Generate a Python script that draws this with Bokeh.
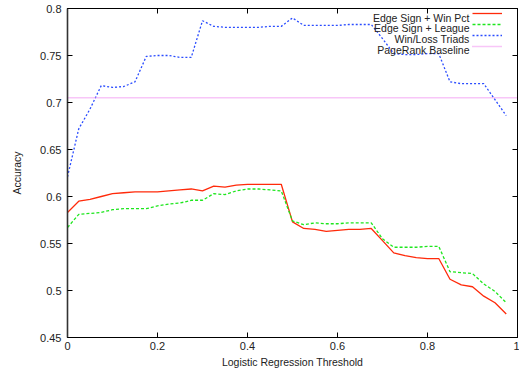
from bokeh.plotting import figure
from bokeh.models import (LinearAxis, FixedTicker, Legend, LegendItem, Label, Range1d,
                          CustomJSTickFormatter)
from bokeh.embed import file_html
from bokeh.resources import INLINE

# ---------------- data ----------------
thresholds = [0.0, 0.025, 0.05, 0.075, 0.1, 0.125, 0.15, 0.175, 0.2, 0.225,
              0.25, 0.275, 0.3, 0.325, 0.35, 0.375, 0.4, 0.425, 0.45, 0.475,
              0.5, 0.525, 0.55, 0.575, 0.6, 0.625, 0.65, 0.675, 0.7, 0.725,
              0.75, 0.775, 0.8, 0.825, 0.85, 0.875, 0.9, 0.925, 0.95, 0.975]

edge_sign_win_pct = [0.583, 0.595, 0.597, 0.600, 0.603, 0.604, 0.605, 0.605, 0.605, 0.606,
                     0.607, 0.608, 0.606, 0.611, 0.610, 0.612, 0.613, 0.613, 0.613, 0.613,
                     0.573, 0.566, 0.565, 0.563, 0.564, 0.565, 0.565, 0.566, 0.553, 0.540,
                     0.537, 0.535, 0.534, 0.534, 0.512, 0.506, 0.504, 0.494, 0.487, 0.475]

edge_sign_league = [0.567, 0.581, 0.582, 0.583, 0.586, 0.587, 0.587, 0.587, 0.590, 0.592,
                    0.593, 0.596, 0.596, 0.603, 0.602, 0.606, 0.608, 0.608, 0.607, 0.606,
                    0.574, 0.570, 0.572, 0.571, 0.571, 0.572, 0.572, 0.572, 0.555, 0.546,
                    0.546, 0.546, 0.547, 0.547, 0.520, 0.519, 0.518, 0.507, 0.499, 0.487]

win_loss_triads = [0.621, 0.672, 0.693, 0.718, 0.716, 0.717, 0.722, 0.749, 0.750, 0.750,
                   0.748, 0.748, 0.787, 0.781, 0.780, 0.780, 0.780, 0.780, 0.781, 0.781,
                   0.790, 0.782, 0.782, 0.782, 0.782, 0.783, 0.783, 0.783, 0.768, 0.752,
                   0.751, 0.751, 0.752, 0.752, 0.722, 0.720, 0.720, 0.720, 0.703, 0.686]

pagerank_baseline = 0.705

series_names = ["Edge Sign + Win Pct", "Edge Sign + League",
                "Win/Loss Triads", "PageRank Baseline"]

x_ticks = [0, 0.2, 0.4, 0.6, 0.8, 1]
x_tick_labels = ["0", "0.2", "0.4", "0.6", "0.8", "1"]
y_ticks = [0.45, 0.5, 0.55, 0.6, 0.65, 0.7, 0.75, 0.8]
y_tick_labels = ["0.45", "0.5", "0.55", "0.6", "0.65", "0.7", "0.75", "0.8"]

FONT = "Liberation Sans"

# ---------------- figure ----------------
W, H = 519, 376
BL, BR, BT, BB = 67, 2, 8, 39
p = figure(width=W, height=H, output_backend="svg", toolbar_location=None,
           x_range=Range1d(0, 1), y_range=Range1d(0.45, 0.8),
           min_border_left=BL, min_border_right=BR, min_border_top=BT,
           min_border_bottom=BB)
p.grid.visible = False
p.outline_line_color = "black"
p.outline_line_width = 1
p.background_fill_color = "white"
p.border_fill_color = "white"


def style_axis(ax, ticks, labels, show_labels=True):
    ax.ticker = FixedTicker(ticks=ticks)
    ax.major_tick_in = 5
    ax.major_tick_out = 0
    ax.minor_tick_line_color = None
    ax.major_tick_line_color = "black"
    ax.axis_line_color = "black"
    ax.major_label_text_font = FONT
    ax.major_label_text_color = "#222222"
    if show_labels:
        ax.major_label_overrides = {t: l for t, l in zip(ticks, labels)}
        ax.major_label_text_font_size = "11px"
        ax.major_label_standoff = 4
    else:
        ax.formatter = CustomJSTickFormatter(code="return ''")
        ax.major_label_standoff = 0


style_axis(p.xaxis[0], x_ticks, x_tick_labels)
style_axis(p.yaxis[0], y_ticks, y_tick_labels)
p.yaxis[0].major_label_standoff = 6
p.yaxis[0].axis_line_color = "#333333"
p.yaxis[0].axis_line_width = 1.6
p.xaxis[0].axis_label = "Logistic Regression Threshold"
p.yaxis[0].axis_label = "Accuracy"
for ax in (p.xaxis[0], p.yaxis[0]):
    ax.axis_label_text_font = FONT
    ax.axis_label_text_font_size = "10.5px"
    ax.axis_label_text_font_style = "normal"
    ax.axis_label_text_color = "#222222"
p.xaxis[0].axis_label_standoff = 3
p.yaxis[0].axis_label_standoff = 14

top_axis = LinearAxis()
style_axis(top_axis, x_ticks, x_tick_labels, show_labels=False)
p.add_layout(top_axis, "above")
right_axis = LinearAxis()
style_axis(right_axis, y_ticks, y_tick_labels, show_labels=False)
p.add_layout(right_axis, "right")

# ---------------- series ----------------
r1 = p.line(thresholds, edge_sign_win_pct, line_color="#ff2a0a", line_width=1.3)
r2 = p.line(thresholds, edge_sign_league, line_color="#1ee61e", line_width=1.3,
            line_dash="3 2")
r3 = p.line(thresholds, win_loss_triads, line_color="#2a4cff", line_width=1.3,
            line_dash="2 2")
r4 = p.line([x_ticks[0], x_ticks[-1]], [pagerank_baseline, pagerank_baseline],
            line_color="#f08cf0", line_width=1.6, line_dash="1 1")

legend = Legend(items=[LegendItem(label=" ", renderers=[r]) for r in (r1, r2, r3, r4)],
                location="top_right", margin=0, padding=3, spacing=1,
                glyph_width=30, glyph_height=10, label_height=10, label_width=15,
                label_standoff=0, label_text_font_size="7px",
                background_fill_alpha=0, border_line_color=None)
p.add_layout(legend)

frame_h = H - BT - BB
frame_w = W - BL - BR
for k, name in enumerate(series_names):
    p.add_layout(Label(x=frame_w - 48, y=frame_h - 9 - 10.7 * k,
                       x_units="screen", y_units="screen", text=name,
                       text_align="right", text_baseline="middle",
                       text_font=FONT, text_font_size="10.5px",
                       text_color="#222222"))

open("out.html", "w").write(file_html(p, INLINE))
